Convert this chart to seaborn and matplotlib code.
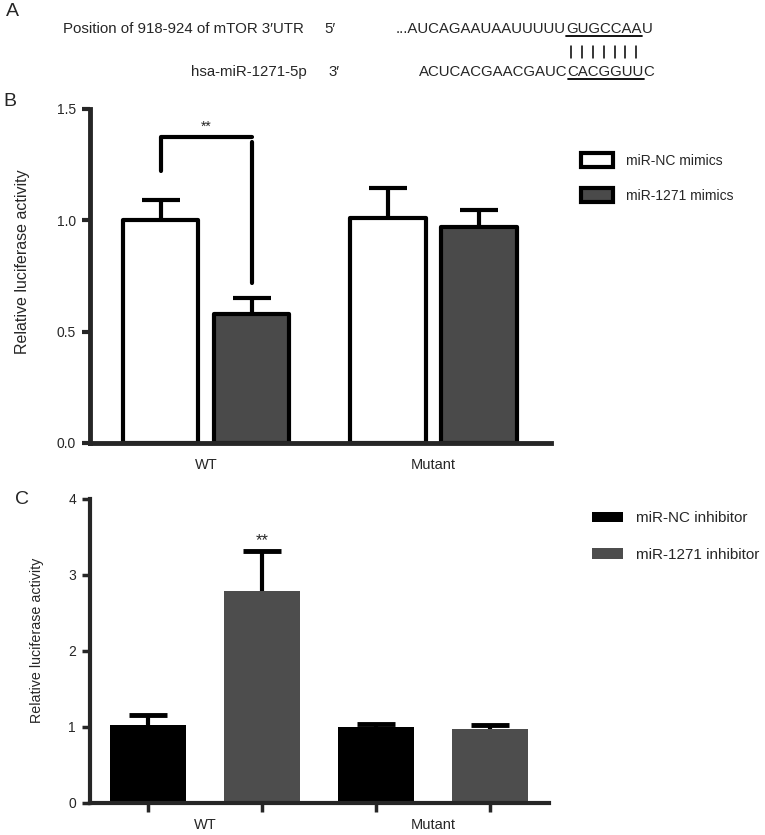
"""
    Luciferase reporter figure: mTOR 3'UTR / miR-1271 binding site (A),
    mimics (B) and inhibitors (C).
"""
import matplotlib

matplotlib.use("Agg")

import numpy as np
import pandas as pd
import matplotlib.pyplot as plt
from matplotlib.lines import Line2D
from matplotlib.patches import Patch
import seaborn as sns

# chart data
groups = ["WT", "Mutant"]

mimic_labels = ["miR-NC mimics", "miR-1271 mimics"]
mimic_nc = [1.00, 1.01]
mimic_nc_err = [0.09, 0.135]
mimic_1271 = [0.58, 0.97]
mimic_1271_err = [0.07, 0.075]

inhibitor_labels = ["miR-NC inhibitor", "miR-1271 inhibitor"]
inhibitor_nc = [1.03, 1.00]
inhibitor_nc_err = [0.13, 0.035]
inhibitor_1271 = [2.79, 0.97]
inhibitor_1271_err = [0.52, 0.05]

# significance marks (data units)
bracket_left = [1.22, 1.375]
bracket_right = [1.35, 0.72]
stars_b = 1.42
stars_c = 3.45

# panel A sequences, split as (before seed, seed, after seed)
utr_label = "Position of 918-924 of mTOR 3\u2032UTR"
mir_label = "hsa-miR-1271-5p"
utr_seq = ["...AUCAGAAUAAUUUUU", "GUGCCAA", "U"]
mir_seq = ["ACUCACGAACGAUC", "CACGGUU", "C"]

W, H = 765, 835
sns.set_style("ticks")
plt.rcParams["font.family"] = ["Liberation Sans", "DejaVu Sans"]


def fx(x):
    return x / W


def fy(y):
    return 1 - y / H


def hline(fig, x0, x1, y, lw):
    fig.add_artist(Line2D([fx(x0), fx(x1)], [fy(y), fy(y)],
                          transform=fig.transFigure, color="black", lw=lw))


def draw_sequence(fig, x, y, parts, fs):
    # draw the pieces one after another and return the seed box
    renderer = fig.canvas.get_renderer()
    cur = x
    boxes = []
    for p in parts:
        t = fig.text(fx(cur), fy(y), p, ha="left", va="center", fontsize=fs)
        bb = t.get_window_extent(renderer)
        boxes.append(bb)
        cur = bb.x1
    return boxes[1]


def bar_centers(ax):
    bars = sorted(ax.patches, key=lambda p: p.get_x())
    xs = [p.get_x() + p.get_width() / 2 for p in bars]
    tops = [p.get_height() for p in bars]
    return xs, tops


def upper_errorbars(ax, xs, tops, errs, capsize, lw, capthick):
    eb = ax.errorbar(xs, tops, yerr=[[0] * len(errs), errs], fmt="none",
                     ecolor="black", elinewidth=lw, capsize=capsize,
                     capthick=capthick)
    # only the upper caps are wanted
    for cap in eb[1]:
        if np.allclose(cap.get_ydata(), tops):
            cap.set_visible(False)


fig = plt.figure(figsize=(W / 100, H / 100), dpi=100)

# ---- panel A ----
fs_a = 10.8
fig.text(fx(12), fy(12), "A", fontsize=14, ha="center", va="center")
fig.text(fx(63), fy(29), utr_label, fontsize=fs_a, ha="left", va="center")
fig.text(fx(324), fy(29), "5\u2032", fontsize=fs_a, ha="left", va="center")
fig.text(fx(191), fy(72), mir_label, fontsize=fs_a, ha="left", va="center")
fig.text(fx(328), fy(72), "3\u2032", fontsize=fs_a, ha="left", va="center")
seed_top = draw_sequence(fig, 396, 29, utr_seq, fs_a)
seed_bot = draw_sequence(fig, 419, 72, mir_seq, fs_a)
hline(fig, seed_top.x0, seed_top.x1, 36, 1.3)
hline(fig, seed_bot.x0, seed_bot.x1, 79, 1.3)
n_pair = len(utr_seq[1])
step = seed_top.width / n_pair
for i in range(n_pair):
    xp = seed_top.x0 + (i + 0.5) * step
    fig.add_artist(Line2D([fx(xp), fx(xp)], [fy(46), fy(58)],
                          transform=fig.transFigure, color="black", lw=1.1))

# ---- panel B ----
fig.text(fx(10), fy(102), "B", fontsize=14, ha="center", va="center")
axB = fig.add_axes([fx(90), fy(443), 461 / W, 334 / H])
df_b = pd.DataFrame({
    "group": groups * 2,
    "condition": [mimic_labels[0]] * 2 + [mimic_labels[1]] * 2,
    "value": mimic_nc + mimic_1271,
})
sns.barplot(data=df_b, x="group", y="value", hue="condition", order=groups,
            hue_order=mimic_labels, palette=["white", "#4a4a4a"], width=0.8,
            gap=0.17, errorbar=None, edgecolor="black", linewidth=3,
            legend=False, ax=axB)
for p in axB.patches:
    p.set_joinstyle("round")
xs_b, tops_b = bar_centers(axB)
errs_b = [mimic_nc_err[0], mimic_1271_err[0], mimic_nc_err[1], mimic_1271_err[1]]
upper_errorbars(axB, xs_b, tops_b, errs_b, 13.5, 3, 3)
axB.plot([xs_b[0], xs_b[0], xs_b[1]],
         [bracket_left[0], bracket_left[1], bracket_left[1]],
         color="black", lw=3, solid_joinstyle="round")
axB.plot([xs_b[1], xs_b[1]], bracket_right, color="black", lw=3)
axB.text(np.mean(xs_b[:2]), stars_b, "**", ha="center", va="center", fontsize=10)

axB.set_xlim(-0.51, 1.516)
axB.set_ylim(0, 1.5)
axB.set_yticks([0, 0.5, 1.0, 1.5])
axB.set_yticklabels(["0.0", "0.5", "1.0", "1.5"])
axB.tick_params(axis="y", length=6, width=3, labelsize=10, pad=4)
axB.tick_params(axis="x", length=0, labelsize=10.5, pad=11)
axB.set_xlabel("")
axB.set_ylabel("Relative luciferase activity", fontsize=11.5)
axB.yaxis.set_label_coords(-0.130, 0.542)
sns.despine(ax=axB)
for s in ["left", "bottom"]:
    axB.spines[s].set_linewidth(3.5)

handles_b = [Patch(facecolor=c, edgecolor="black", linewidth=3, joinstyle="round")
             for c in ["white", "#4a4a4a"]]
axB.legend(handles_b, mimic_labels, loc="upper left",
           bbox_to_anchor=(fx(581), fy(153)), bbox_transform=fig.transFigure,
           frameon=False, fontsize=10, handlelength=2.3, handleheight=1.15,
           handletextpad=0.95, labelspacing=1.5, borderpad=0, borderaxespad=0)

# ---- panel C ----
fig.text(fx(22), fy(500), "C", fontsize=14, ha="center", va="center")
axC = fig.add_axes([fx(90), fy(803), 459 / W, 304 / H])
df_c = pd.DataFrame({
    "group": groups * 2,
    "condition": [inhibitor_labels[0]] * 2 + [inhibitor_labels[1]] * 2,
    "value": inhibitor_nc + inhibitor_1271,
})
sns.barplot(data=df_c, x="group", y="value", hue="condition", order=groups,
            hue_order=inhibitor_labels, palette=["black", "#4d4d4d"], width=1.0,
            gap=0.34, errorbar=None, linewidth=0, legend=False, ax=axC)
xs_c, tops_c = bar_centers(axC)
errs_c = [inhibitor_nc_err[0], inhibitor_1271_err[0],
          inhibitor_nc_err[1], inhibitor_1271_err[1]]
upper_errorbars(axC, xs_c, tops_c, errs_c, 14, 3, 3.5)
axC.text(xs_c[1], stars_c, "**", ha="center", va="center", fontsize=12)

axC.set_xlim(-0.504, 1.509)
axC.set_ylim(0, 4)
axC.set_yticks([0, 1, 2, 3, 4])
axC.set_xticks(xs_c, minor=True)
axC.tick_params(axis="y", length=6, width=2.5, labelsize=10, pad=4)
axC.tick_params(axis="x", which="major", length=0, labelsize=10.5, pad=10.5)
axC.tick_params(axis="x", which="minor", length=6.5, width=2.5)
axC.set_xlabel("")
axC.set_ylabel("Relative luciferase activity", fontsize=10.3)
axC.yaxis.set_label_coords(-0.100, 0.536)
sns.despine(ax=axC)
for s in ["left", "bottom"]:
    axC.spines[s].set_linewidth(3)

handles_c = [Patch(facecolor=c, edgecolor="none") for c in ["black", "#4d4d4d"]]
axC.legend(handles_c, inhibitor_labels, loc="upper left",
           bbox_to_anchor=(fx(592), fy(511)), bbox_transform=fig.transFigure,
           frameon=False, fontsize=11, handlelength=2.0, handleheight=0.65,
           handletextpad=0.85, labelspacing=1.5, borderpad=0, borderaxespad=0)

fig.savefig("out.png", dpi=100)
